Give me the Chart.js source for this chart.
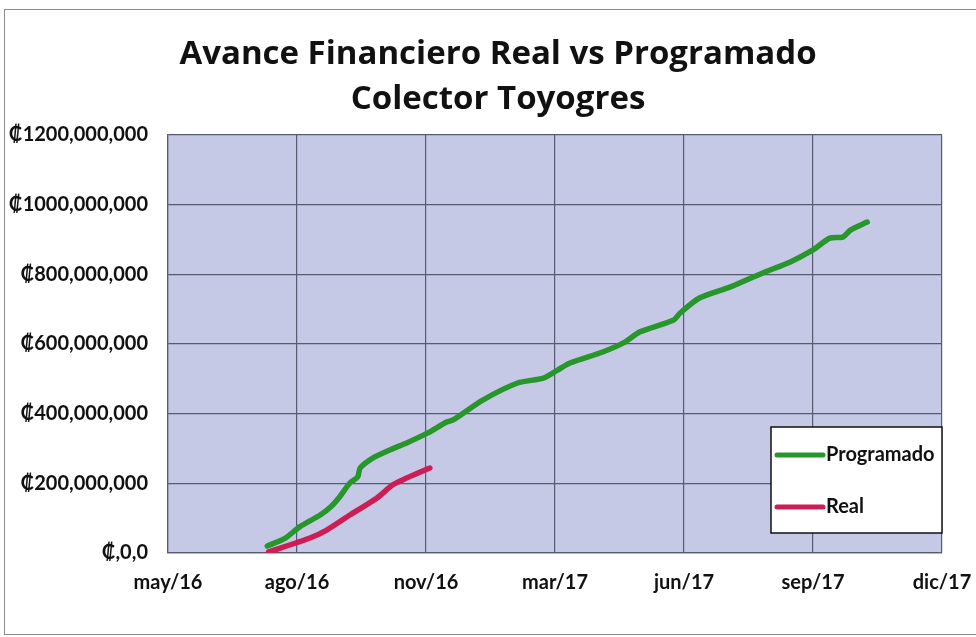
<!DOCTYPE html>
<html>
<head>
<meta charset="utf-8">
<script src="https://cdn.jsdelivr.net/npm/chart.js@4/dist/chart.umd.min.js"></script>
<style>
  html, body { margin: 0; padding: 0; background: #fff; overflow: hidden; }
  #wrap { position: relative; width: 976px; height: 637px; }
  #frame { position: absolute; left: 4px; top: 9px; width: 990px; height: 624px; border: 1px solid #8c8c8c; }
  canvas { position: absolute; left: 0; top: 0; }
</style>
</head>
<body>
<div id="wrap">
  <div id="frame"></div>
  <canvas id="avance" width="976" height="637"></canvas>
</div>
<script>
const titleLines = ["Avance Financiero Real vs Programado", "Colector Toyogres"];

/* Eje X : posición en unidades de marca (0 = may/16 ... 6 = dic/17) */
const xTickLabels = ["may/16", "ago/16", "nov/16", "mar/17", "jun/17", "sep/17", "dic/17"];

/* Programado (millones de colones) */
const programadoX = [0.77, 0.91, 1.02, 1.18, 1.26, 1.33, 1.41, 1.47, 1.49, 1.59, 1.72, 1.85, 2.01, 2.16, 2.21, 2.44, 2.71, 2.91, 3.02, 3.12, 3.37, 3.53, 3.66, 3.92, 3.97, 4.12, 4.36, 4.61, 4.82, 5.0, 5.13, 5.23, 5.29, 5.42];
const programadoM = [20, 43, 75, 109, 132, 161, 201, 218, 244, 273, 296, 316, 344, 376, 382, 439, 488, 502, 525, 546, 577, 603, 635, 669, 689, 732, 764, 804, 835, 870, 904, 907, 927, 950];

/* Real (millones de colones) */
const realX = [0.78, 1.1, 1.23, 1.41, 1.62, 1.74, 1.85, 2.03];
const realM = [3, 43, 66, 109, 158, 195, 215, 244];

const toPoints = (xs, ys) => xs.map((x, i) => ({ x, y: ys[i] }));

const FONT = "Lato, 'DejaVu Sans', sans-serif";
const GRID = "#565b70";

/* fondo lila del área de trazado */
const plotBg = {
  id: "plotBg",
  beforeDraw(chart) {
    const { ctx, chartArea: a } = chart;
    ctx.save();
    ctx.fillStyle = "#c6c9e6";
    ctx.fillRect(a.left, a.top, a.right - a.left, a.bottom - a.top);
    ctx.restore();
  },
};

/* título en dos líneas, centrado como en el original */
const titleBlock = {
  id: "titleBlock",
  afterDraw(chart) {
    const { ctx } = chart;
    ctx.save();
    ctx.fillStyle = "#111";
    ctx.font = "bold 33px 'Open Sans', sans-serif";
    ctx.textAlign = "center";
    ctx.textBaseline = "middle";
    titleLines.forEach((t, i) => ctx.fillText(t, 498, 55 + i * 45));
    ctx.restore();
  },
};

/* leyenda con recuadro, dentro del área de trazado */
const boxLegend = {
  id: "boxLegend",
  afterDraw(chart) {
    const { ctx, chartArea: a } = chart;
    const w = 171, h = 106;
    const x0 = a.right - w, y0 = 427;
    ctx.save();
    ctx.fillStyle = "#fff";
    ctx.fillRect(x0, y0, w, h);
    ctx.strokeStyle = "#111";
    ctx.lineWidth = 1.5;
    ctx.strokeRect(x0, y0, w, h);
    chart.data.datasets.forEach((ds, i) => {
      const y = y0 + 28 + i * 52;
      ctx.strokeStyle = ds.borderColor;
      ctx.lineWidth = 5;
      ctx.lineCap = "round";
      ctx.beginPath();
      ctx.moveTo(x0 + 6, y);
      ctx.lineTo(x0 + 52, y);
      ctx.stroke();
      ctx.fillStyle = "#111";
      ctx.font = "bold 20px " + FONT;
      ctx.textBaseline = "middle";
      ctx.fillText(ds.label, x0 + 55, y);
    });
    ctx.restore();
  },
};

new Chart(document.getElementById("avance"), {
  type: "line",
  data: {
    datasets: [
      {
        label: "Programado",
        data: toPoints(programadoX, programadoM),
        borderColor: "#27962b",
        borderWidth: 5.5,
        pointRadius: 0,
        tension: 0.25,
        borderCapStyle: "round",
        borderJoinStyle: "round",
      },
      {
        label: "Real",
        data: toPoints(realX, realM),
        borderColor: "#cc1d55",
        borderWidth: 5.5,
        pointRadius: 0,
        tension: 0.25,
        borderCapStyle: "round",
        borderJoinStyle: "round",
      },
    ],
  },
  options: {
    responsive: false,
    animation: false,
    layout: { padding: { left: 4, right: 34, top: 135, bottom: 0 } },
    plugins: {
      legend: { display: false },
      tooltip: { enabled: false },
      title: { display: false },
    },
    scales: {
      x: {
        type: "linear",
        min: 0,
        max: 6,
        afterFit: (s) => { s.height = 84; s.paddingLeft = 0; s.paddingRight = 0; },
        ticks: {
          stepSize: 1,
          padding: 18,
          color: "#111",
          font: { family: FONT, size: 20, weight: "bold" },
          callback: (v) => xTickLabels[v],
        },
        grid: { color: GRID, lineWidth: 1.2, drawTicks: false },
        border: { display: true, color: GRID, width: 1.2 },
      },
      y: {
        min: 0,
        max: 1200,
        afterFit: (s) => { s.width = 164; s.paddingTop = 0; s.paddingBottom = 0; },
        ticks: {
          stepSize: 200,
          padding: 20,
          color: "#111",
          font: { family: FONT, size: 20, weight: "bold" },
          callback: (v) => (v === 0 ? "₡,0,0" : "₡" + v + ",000,000"),
        },
        grid: { color: GRID, lineWidth: 1.2, drawTicks: false },
        border: { display: true, color: GRID, width: 1.2 },
      },
    },
  },
  plugins: [plotBg, titleBlock, boxLegend],
});
</script>
</body>
</html>
